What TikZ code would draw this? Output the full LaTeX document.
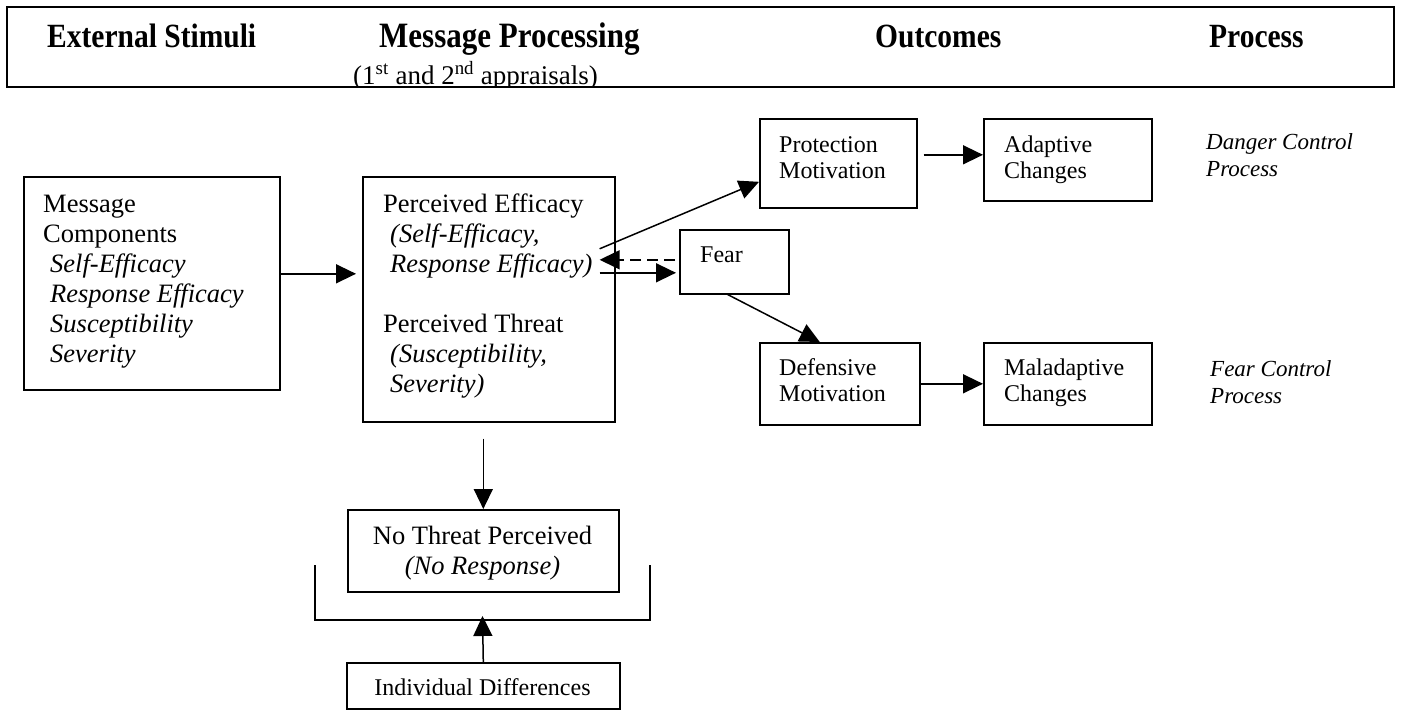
\documentclass[tikz,border=0pt]{standalone}
\usepackage{fontspec}
\setmainfont{Liberation Serif}
\usetikzlibrary{arrows.meta,calc}
\begin{document}
\begin{tikzpicture}[x=1pt,y=-1pt,
  box/.style={draw, line width=1.6pt, inner sep=0pt, anchor=north west},
  arr/.style={line width=1.5pt, -{Triangle[length=20pt,width=19pt]}},
  txt/.style={inner sep=0pt, align=left, anchor=base west},
  bodyf/.style={font=\fontsize{26.5pt}{30pt}\selectfont},
  rf/.style={font=\fontsize{24pt}{26.5pt}\selectfont},
  hf/.style={inner sep=0pt, anchor=base west, font=\fontsize{29.5pt}{32pt}\selectfont\bfseries}
]
\useasboundingbox (0,0) rectangle (1401,710);
% header
\begin{scope}
\clip (6,6) rectangle (1393,86);
\node[hf] (h1) at (47,47) {\scalebox{1}[1.15]{External Stimuli}};
\node[hf, font=\fontsize{31pt}{34pt}\selectfont\bfseries] (h2) at (379,47) {\scalebox{1}[1.15]{Message Processing}};
\node[txt, font=\fontsize{27pt}{30pt}\selectfont] (h3) at (353,84) {(1\textsuperscript{st} and 2\textsuperscript{nd} appraisals)};
\node[hf] (h4) at (875,47) {\scalebox{1}[1.15]{Outcomes}};
\node[hf] (h5) at (1209,47) {\scalebox{1}[1.15]{Process}};
\end{scope}
\node[box, line width=2.4pt, minimum width=1387pt, minimum height=80pt] (hdr) at (6,6) {};
% boxes
\node[box, minimum width=256pt, minimum height=213pt] (mc) at (23,176) {};
\node[box, minimum width=252pt, minimum height=245pt] (pe) at (362,176) {};
\node[box, minimum width=109pt, minimum height=64pt] (fear) at (679,229) {};
\node[box, minimum width=157pt, minimum height=89pt] (pm) at (759,118) {};
\node[box, minimum width=168pt, minimum height=82pt] (ac) at (983,118) {};
\node[box, minimum width=160pt, minimum height=82pt] (dm) at (759,342) {};
\node[box, minimum width=168pt, minimum height=82pt] (mac) at (983,342) {};
\node[box, minimum width=271pt, minimum height=82pt] (nt) at (347,509) {};
\node[box, minimum width=273pt, minimum height=46pt] (id) at (346,662) {};
% texts (base = baseline of the last line)
\node[txt, bodyf] (mct) at (43,362) {Message\\Components\\\hspace*{7pt}\textit{Self-Efficacy}\\\hspace*{7pt}\textit{Response Efficacy}\\\hspace*{7pt}\textit{Susceptibility}\\\hspace*{7pt}\textit{Severity}};
\node[txt, bodyf] (pet) at (383,392) {Perceived Efficacy\\\hspace*{7pt}\textit{(Self-Efficacy,}\\\hspace*{7pt}\textit{Response Efficacy)}\\[30pt]Perceived Threat\\\hspace*{7pt}\textit{(Susceptibility,}\\\hspace*{7pt}\textit{Severity)}};
\node[txt, rf] (feart) at (700,262) {Fear};
\node[txt, rf] (pmt) at (779,178.5) {Protection\\Motivation};
\node[txt, rf] (act) at (1004,178.5) {Adaptive\\Changes};
\node[txt, rf] (dmt) at (779,401.5) {Defensive\\Motivation};
\node[txt, rf] (mact) at (1004,401.5) {Maladaptive\\Changes};
\node[txt, font=\fontsize{23pt}{27pt}\selectfont\itshape] (dcp) at (1206,176) {Danger Control\\Process};
\node[txt, font=\fontsize{23pt}{27pt}\selectfont\itshape] (fcp) at (1210,403) {Fear Control\\Process};
\node[txt, bodyf, align=center, anchor=base] (ntt) at (482.5,574) {No Threat Perceived\\\textit{(No Response)}};
\node[txt, rf, align=center, anchor=base] (idt) at (482.5,695) {Individual Differences};
% bracket
\coordinate (brk) at (482.5,616);
\draw[line width=1.6pt] (315,565) |- (650,620) -- (650,565);
% connectors
\draw[arr] ($(mc.east)+(0,-9.5)$) -- ($(pe.west)+(-6,-25.5)$);
\draw[arr] ($(pe.east)+(-16,-50.5)$) -- ($(pm.west)+(0,18.5)$);
\draw[arr, dash pattern=on 11pt off 6pt] ($(fear.west)+(-4,-2)$) -- ($(pe.east)+(-16,-39.5)$);
\draw[arr] ($(pe.east)+(-16,-26.5)$) -- ($(fear.west)+(-3,11)$);
\draw[arr] ($(fear.south)+(-6.5,0)$) -- ($(dm.north)+(-20,0)$);
\draw[arr] ($(pm.east)+(6,-8.5)$) -- ($(ac.west)+(0,-5)$);
\draw[arr] (dm.east) -- (mac.west);
\draw[arr] ($(pe.south)+(-5.5,16)$) -- (nt.north);
\draw[arr] (id.north) -- (brk);
\end{tikzpicture}
\end{document}
